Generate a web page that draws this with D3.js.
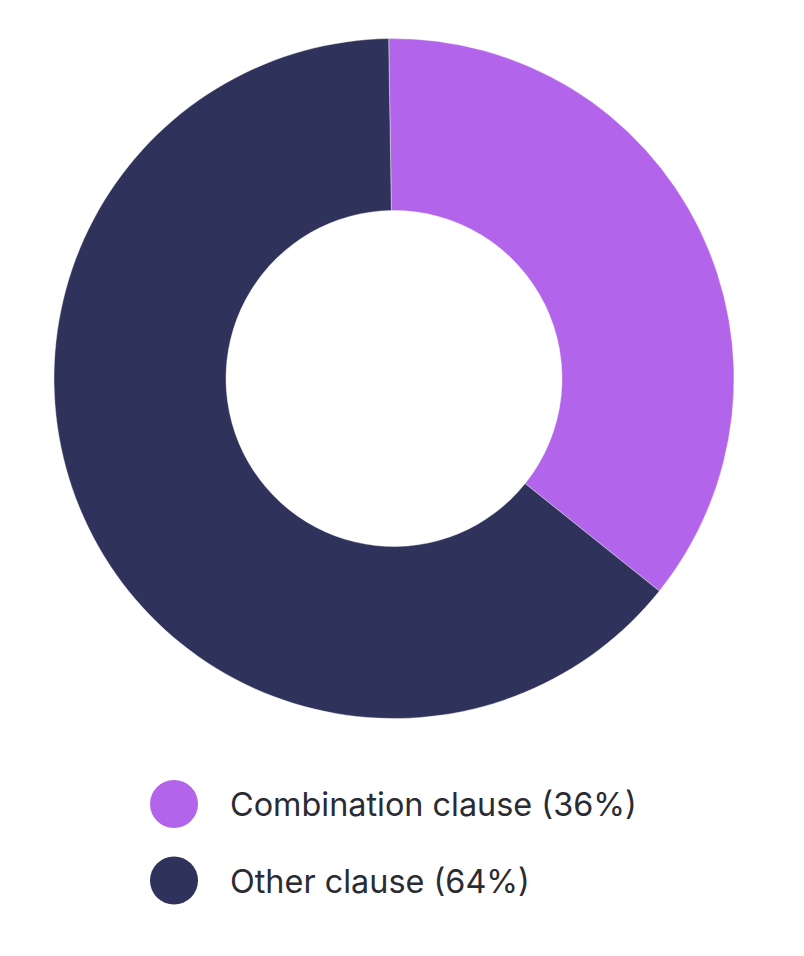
<!DOCTYPE html>
<html><head><meta charset="utf-8">
<script src="https://cdn.jsdelivr.net/npm/d3@7"></script>
<style>html,body{margin:0;padding:0;background:#fff;}</style>
</head><body>
<script>
const categories = ["Combination clause", "Other clause"];
const values = [36, 64];
const colors = ["#B264EA", "#2F325B"];

const W = 804, H = 956;
const cx = 394, cy = 378.5, rOuter = 340, rInner = 168;
const startDeg = -0.9;

const svg = d3.select("body").append("svg").attr("width", W).attr("height", H);
const data = categories.map((c, i) => ({ name: c, value: values[i], color: colors[i] }));

const pie = d3.pie().value(d => d.value).sort(null)
  .startAngle(startDeg * Math.PI / 180)
  .endAngle(startDeg * Math.PI / 180 + 2 * Math.PI);
const arc = d3.arc().innerRadius(rInner).outerRadius(rOuter);

svg.append("g").attr("transform", `translate(${cx},${cy})`)
  .selectAll("path").data(pie(data)).join("path")
  .attr("d", arc)
  .attr("fill", d => d.data.color)
  .attr("stroke", "#ffffff").attr("stroke-width", 0.4);

const legend = svg.append("g");
const items = legend.selectAll("g").data(data).join("g")
  .attr("transform", (d, i) => `translate(174,${804 + i * 76.5})`);
items.append("circle").attr("r", 24).attr("fill", d => d.color);
items.append("text").attr("x", 56).attr("y", 12)
  .attr("font-family", "Inter, 'Noto Sans', sans-serif")
  .attr("font-size", 32.4).attr("fill", "#2a2b33")
  .text(d => `${d.name} (${d.value}%)`);
</script>
</body></html>
